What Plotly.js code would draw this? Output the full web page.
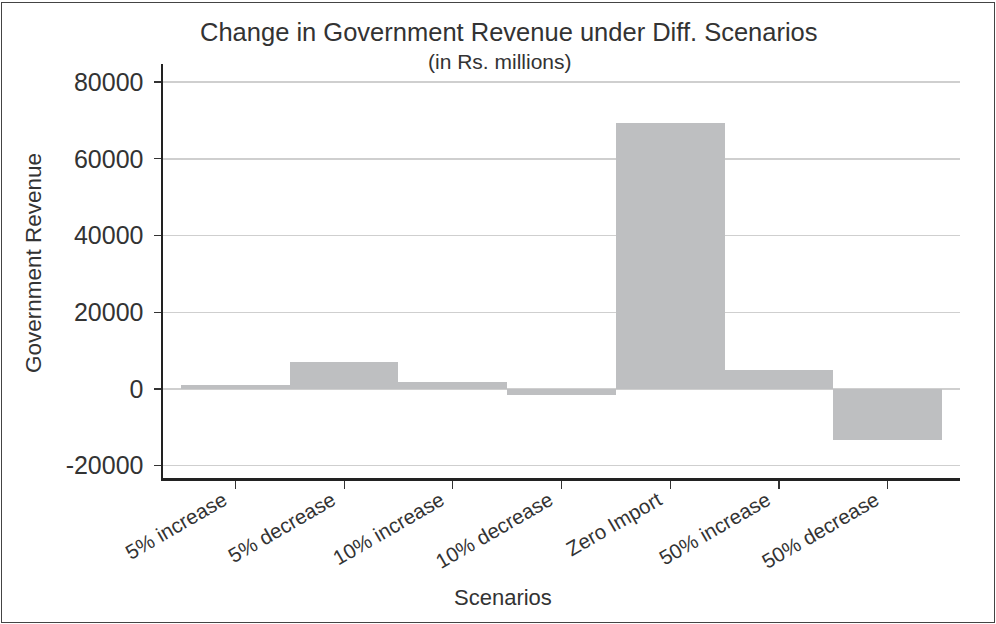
<!DOCTYPE html>
<html>
<head>
<meta charset="utf-8">
<script src="https://cdn.plot.ly/plotly-3.0.1.min.js"></script>
<style>
  html, body { margin: 0; padding: 0; background: #fff; }
  #wrap { position: relative; width: 996px; height: 624px; }
  #chart { position: absolute; left: 0; top: 0; width: 996px; height: 624px; }
  #frame { position: absolute; left: 1px; top: 2px; width: 992px; height: 619px; border: 1.5px solid #444; pointer-events: none; }
</style>
</head>
<body>
<div id="wrap">
  <div id="chart"></div>
  <div id="frame"></div>
</div>
<script>
const scenarios = ["5% increase", "5% decrease", "10% increase", "10% decrease", "Zero Import", "50% increase", "50% decrease"];
const revenue = [1000, 7000, 1800, -1500, 69300, 5000, -13300];
const yTicks = [-20000, 0, 20000, 40000, 60000, 80000];

const FONT = "Liberation Sans, Arial, sans-serif";
const L = 163, R = 36, T = 64, B = 146;
const W = 996, H = 624;
const pw = W - L - R, ph = H - T - B;
function px2paperX(px) { return (px - L) / pw; }
function px2paperY(py) { return (H - B - py) / ph; }

const trace = {
  type: "bar",
  x: scenarios,
  y: revenue,
  marker: { color: "#bebfc1", line: { width: 0 } },
  hoverinfo: "x+y"
};

const layout = {
  width: W, height: H,
  margin: { l: L, r: R, t: T, b: B, pad: 0 },
  paper_bgcolor: "rgba(0,0,0,0)",
  plot_bgcolor: "#fff",
  bargap: 0,
  showlegend: false,
  font: { family: FONT, color: "#333" },
  xaxis: {
    type: "category",
    range: [-0.666, 6.666],
    tickangle: -30,
    tickfont: { family: FONT, size: 20.5, color: "#333" },
    ticks: "outside", ticklen: 8, tickwidth: 1.2, tickcolor: "#333",
    ticklabelshift: -12,
    ticklabelstandoff: -8,
    showline: true, linecolor: "#222", linewidth: 2.5,
    showgrid: false, zeroline: false
  },
  yaxis: {
    range: [-23200, 84700],
    tickvals: yTicks,
    ticktext: yTicks.map(String),
    tickfont: { family: FONT, size: 25, color: "#333" },
    ticks: "outside", ticklen: 7, tickwidth: 1.2, tickcolor: "#333",
    ticklabelstandoff: 5,
    showline: true, linecolor: "#222", linewidth: 2.5,
    showgrid: true, gridcolor: "#cfcfcf", gridwidth: 1.5,
    zeroline: false
  },
  annotations: [
    { text: "Change in Government Revenue under Diff. Scenarios", xref: "paper", yref: "paper",
      x: px2paperX(509), y: px2paperY(32), xanchor: "center", yanchor: "middle", showarrow: false,
      font: { family: FONT, size: 25.5, color: "#333" } },
    { text: "(in Rs. millions)", xref: "paper", yref: "paper",
      x: px2paperX(500), y: px2paperY(62), xanchor: "center", yanchor: "middle", showarrow: false,
      font: { family: FONT, size: 21, color: "#333" } },
    { text: "Scenarios", xref: "paper", yref: "paper",
      x: px2paperX(503), y: px2paperY(597), xanchor: "center", yanchor: "middle", showarrow: false,
      font: { family: FONT, size: 22, color: "#333" } },
    { text: "Government Revenue", xref: "paper", yref: "paper", textangle: -90,
      x: px2paperX(33), y: px2paperY(263), xanchor: "center", yanchor: "middle", showarrow: false,
      font: { family: FONT, size: 22.5, color: "#333" } }
  ]
};

Plotly.newPlot("chart", [trace], layout, { displayModeBar: false, staticPlot: true });
</script>
</body>
</html>
